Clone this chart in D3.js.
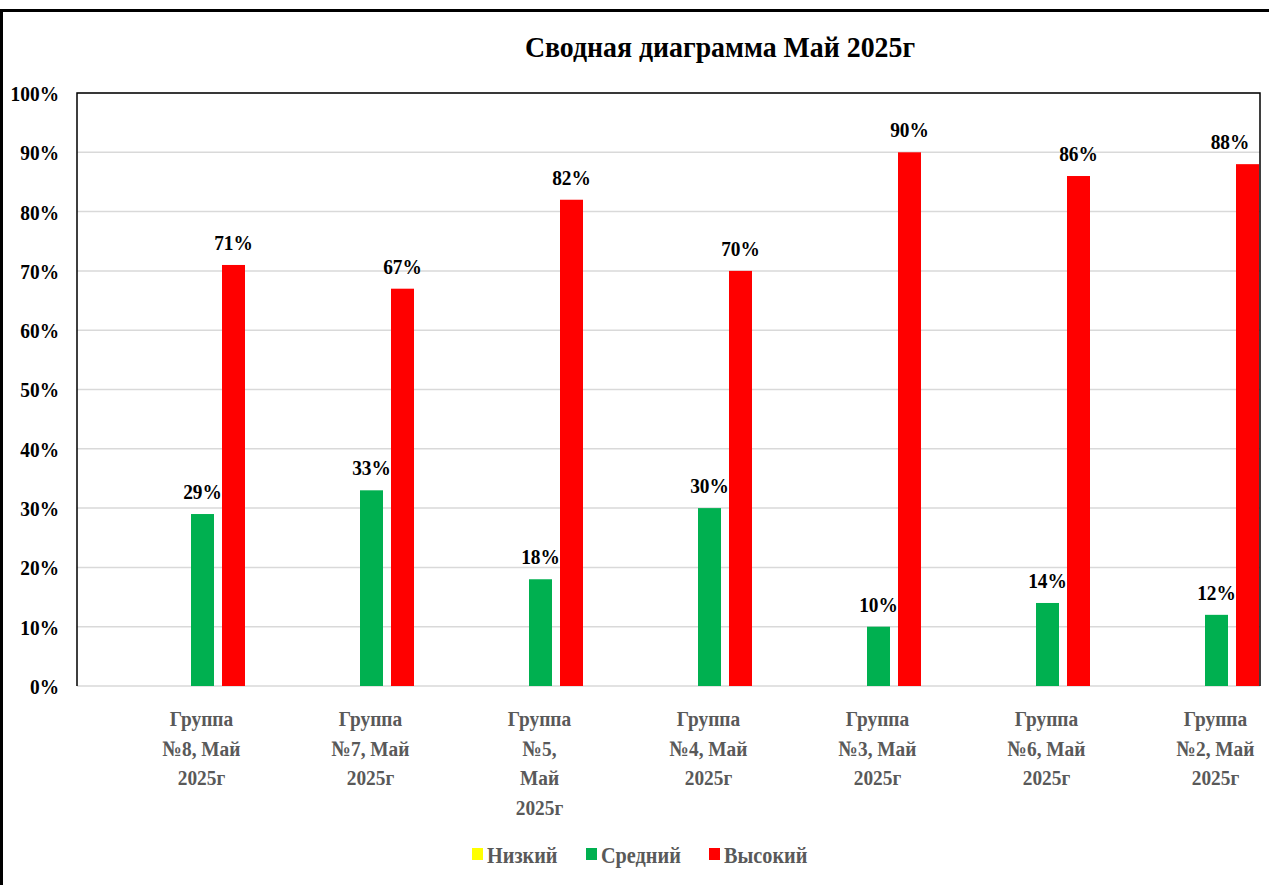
<!DOCTYPE html>
<html>
<head>
<meta charset="utf-8">
<script src="https://cdn.jsdelivr.net/npm/d3@7"></script>
<style>
  body { margin: 0; background: #fff; }
  svg { display: block; }
  text { font-family: "Liberation Serif", "Times New Roman", serif; font-weight: bold; }
</style>
</head>
<body>
<div id="chart"></div>
<script>
const title = "Сводная диаграмма Май 2025г";
const categories = ["Группа №8, Май 2025г", "Группа №7, Май 2025г", "Группа №5, Май 2025г",
  "Группа №4, Май 2025г", "Группа №3, Май 2025г", "Группа №6, Май 2025г", "Группа №2, Май 2025г"];
const categoryLines = [
  ["Группа", "№8, Май", "2025г"],
  ["Группа", "№7, Май", "2025г"],
  ["Группа", "№5,", "Май", "2025г"],
  ["Группа", "№4, Май", "2025г"],
  ["Группа", "№3, Май", "2025г"],
  ["Группа", "№6, Май", "2025г"],
  ["Группа", "№2, Май", "2025г"]
];
const seriesNames = ["Низкий", "Средний", "Высокий"];
const lowValues = [0, 0, 0, 0, 0, 0, 0];
const midValues = [0.29, 0.33, 0.18, 0.30, 0.10, 0.14, 0.12];
const highValues = [0.71, 0.67, 0.82, 0.70, 0.90, 0.86, 0.88];
const yTicks = [0, 0.1, 0.2, 0.3, 0.4, 0.5, 0.6, 0.7, 0.8, 0.9, 1.0];

const colours = ["#FFFF00", "#00B050", "#FF0000"];
const seriesValues = [lowValues, midValues, highValues];
const SX = 0.88; // text looks horizontally squeezed in the original

const W = 1269, H = 885;
const plot = { left: 77, right: 1260, top: 93, bottom: 686 };

const svg = d3.select("#chart").append("svg")
  .attr("width", W).attr("height", H);

// outer chart border (runs off the picture on right and bottom)
svg.append("rect")
  .attr("x", 1.5).attr("y", 10.5)
  .attr("width", W + 10).attr("height", H + 10)
  .attr("fill", "none").attr("stroke", "#000").attr("stroke-width", 3);

svg.append("text")
  .attr("text-anchor", "middle")
  .attr("transform", `translate(720,57) scale(0.96,1)`)
  .style("font-size", "29px")
  .attr("fill", "#000")
  .text(title);

const x0 = d3.scaleBand().domain(categories).range([plot.left, plot.right]).padding(0);
const x1 = d3.scaleBand().domain(seriesNames).range([83, 168]).paddingInner(8 / 31).paddingOuter(0);
const y = d3.scaleLinear().domain([0, 1]).range([plot.bottom, plot.top]);

// gridlines
svg.append("g").selectAll("line")
  .data(yTicks)
  .join("line")
  .attr("x1", plot.left).attr("x2", plot.right)
  .attr("y1", d => y(d)).attr("y2", d => y(d))
  .attr("stroke", "#d9d9d9").attr("stroke-width", 1.5);

// y axis labels
const yAxis = d3.axisLeft(y).tickValues(yTicks).tickFormat(d3.format(".0%")).tickSize(0).tickPadding(0);
const yg = svg.append("g").attr("transform", `translate(${plot.left},0)`).call(yAxis);
yg.select(".domain").remove();
yg.selectAll(".tick text")
  .attr("x", null).attr("dy", null)
  .attr("text-anchor", "end")
  .attr("dominant-baseline", "central")
  .attr("transform", `translate(-18,0) scale(${SX},1)`)
  .style("font-size", "22px")
  .attr("fill", "#000");

// bars
const rows = [];
categories.forEach((c, i) => {
  seriesNames.forEach((s, j) => {
    rows.push({ cat: c, series: s, value: seriesValues[j][i], colour: colours[j] });
  });
});

svg.append("g").selectAll("rect")
  .data(rows.filter(d => d.value > 0))
  .join("rect")
  .attr("x", d => x0(d.cat) + x1(d.series))
  .attr("y", d => y(d.value))
  .attr("width", x1.bandwidth())
  .attr("height", d => y(0) - y(d.value))
  .attr("fill", d => d.colour);

// data labels
svg.append("g").selectAll("text")
  .data(rows.filter(d => d.value > 0))
  .join("text")
  .attr("text-anchor", "middle")
  .attr("transform", d => {
    const cx = Math.min(x0(d.cat) + x1(d.series) + x1.bandwidth() / 2, plot.right - 30);
    return `translate(${cx},${y(d.value) - 15}) scale(${SX},1)`;
  })
  .style("font-size", "22px")
  .attr("fill", "#000")
  .text(d => d3.format(".0%")(d.value));

// plot frame: top, left, right dark; bottom is the gray baseline
svg.append("path")
  .attr("d", `M${plot.left},${plot.bottom} V${plot.top} H${plot.right} V${plot.bottom}`)
  .attr("fill", "none").attr("stroke", "#000").attr("stroke-width", 1.5);

// category labels
const cg = svg.append("g").selectAll("g")
  .data(categories)
  .join("g");
cg.each(function (c, i) {
  const cx = x0(c) + x0.bandwidth() / 2 + 40;
  d3.select(this).selectAll("text")
    .data(categoryLines[i])
    .join("text")
    .attr("text-anchor", "middle")
    .attr("transform", (t, k) => `translate(${cx},${726 + k * 29.5}) scale(${SX},1)`)
    .style("font-size", "22px")
    .attr("fill", "#595959")
    .text(t => t);
});

// legend
const legendX = [472, 586, 709];
const lg = svg.append("g").selectAll("g")
  .data(seriesNames)
  .join("g")
  .attr("transform", (d, i) => `translate(${legendX[i]},848)`);
lg.append("rect")
  .attr("width", 11).attr("height", 12)
  .attr("fill", (d, i) => colours[i]);
lg.append("text")
  .attr("transform", `translate(15,15) scale(${SX},1)`)
  .style("font-size", "23px")
  .attr("fill", "#595959")
  .text(d => d);
</script>
</body>
</html>
